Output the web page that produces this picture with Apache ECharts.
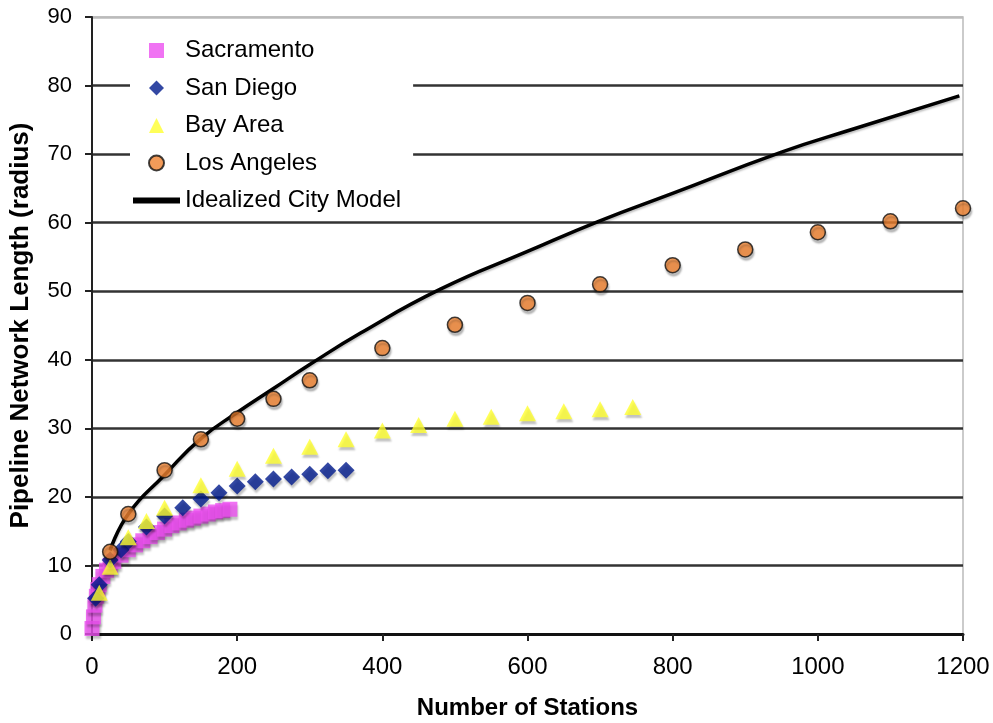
<!DOCTYPE html>
<html>
<head>
<meta charset="utf-8">
<script src="https://cdn.jsdelivr.net/npm/echarts@6/dist/echarts.min.js"></script>
<style>
html,body{margin:0;padding:0;background:#fff;}
#chart{width:993px;height:723px;}
</style>
</head>
<body>
<div id="chart"></div>
<script>
// ---- data ----
const xTicks = [0, 200, 400, 600, 800, 1000, 1200];
const yTicks = [0, 10, 20, 30, 40, 50, 60, 70, 80, 90];

const sacramento = [
  [0, 0.8], [2, 2.5], [4, 4.2], [6, 5.5], [8, 6.5], [10, 7.2], [15, 8.4], [20, 9.3],
  [25, 10.0], [30, 10.6], [40, 11.5], [50, 12.3], [60, 13.0], [70, 13.6], [80, 14.2],
  [90, 14.8], [100, 15.3], [110, 15.8], [120, 16.2], [130, 16.6], [140, 16.9],
  [150, 17.2], [160, 17.5], [170, 17.8], [180, 18.0], [190, 18.2]
];
const sanDiego = [
  [5, 5.2], [10, 7.2], [25, 10.8], [40, 12.3], [50, 13.5], [75, 15.6], [100, 17.2],
  [125, 18.4], [150, 19.7], [175, 20.6], [200, 21.6], [225, 22.2], [250, 22.6],
  [275, 22.9], [300, 23.3], [325, 23.8], [350, 23.9]
];
const bayArea = [
  [10, 6.0], [25, 9.8], [50, 14.1], [75, 16.5], [100, 18.4], [150, 21.7], [200, 24.1],
  [250, 26.0], [300, 27.3], [350, 28.4], [400, 29.7], [450, 30.5], [500, 31.4],
  [550, 31.7], [600, 32.2], [650, 32.5], [700, 32.8], [745, 33.1]
];
const losAngeles = [
  [25, 12.0], [50, 17.5], [100, 23.9], [150, 28.4], [200, 31.4], [250, 34.3],
  [300, 37.0], [400, 41.7], [500, 45.1], [600, 48.3], [700, 51.0], [800, 53.8],
  [900, 56.1], [1000, 58.6], [1100, 60.2], [1200, 62.1]
];
const idealized = [
  [25, 12.2], [50, 17.5], [100, 23.2], [150, 28.5], [200, 32.3], [250, 35.8],
  [300, 39.3], [370, 43.9], [480, 50.3], [600, 55.8], [698, 60.2], [798, 64.2],
  [950, 70.3], [1050, 73.7], [1195, 78.5]
];
const seriesNames = ['Sacramento', 'San Diego', 'Bay Area', 'Los Angeles', 'Idealized City Model'];

// ---- chart ----
const FONT = 'Liberation Sans, Arial, sans-serif';
const shadow = { shadowColor: 'rgba(0,0,0,0.3)', shadowBlur: 2, shadowOffsetX: 1, shadowOffsetY: 3 };
const chart = echarts.init(document.getElementById('chart'), null, { renderer: 'canvas' });
const gridColors = yTicks.map((v, i) => (i === yTicks.length - 1 ? '#bbbbbb' : '#333333'));

chart.setOption({
  animation: false,
  backgroundColor: '#ffffff',
  grid: {
    left: 92, right: 30, top: 17, bottom: 89,
    outerBoundsMode: 'none', containLabel: false,
    show: true, borderColor: '#bbbbbb', borderWidth: 1.5, backgroundColor: 'transparent'
  },
  legend: {
    orient: 'vertical',
    left: 130, top: 34,
    padding: [4, 12, 8, 3],
    backgroundColor: '#ffffff',
    itemWidth: 47, itemHeight: 15, itemGap: 12.5,
    textStyle: { fontFamily: FONT, fontSize: 24, color: '#000', lineHeight: 25 },
    data: [
      { name: seriesNames[0], icon: 'path://M0,0L10,0L10,10L0,10Z' },
      { name: seriesNames[1], icon: 'path://M5,0L10,5L5,10L0,5Z' },
      { name: seriesNames[2], icon: 'path://M5,0L10,10L0,10Z' },
      { name: seriesNames[3], icon: 'path://M0,5A5,5 0 1,0 10,5A5,5 0 1,0 0,5Z' },
      { name: seriesNames[4], icon: 'path://M0,0L48,0L48,6L0,6Z', itemStyle: { color: '#000' } }
    ]
  },
  xAxis: {
    type: 'value', min: xTicks[0], max: xTicks[xTicks.length - 1], interval: 200,
    name: 'Number of Stations', nameLocation: 'middle', nameGap: 62,
    nameTextStyle: { fontFamily: FONT, fontSize: 24, fontWeight: 'bold', color: '#000' },
    axisLine: { show: true, lineStyle: { color: '#111', width: 3 } },
    axisTick: { show: true, inside: false, length: 7, lineStyle: { color: '#222', width: 2 } },
    axisLabel: { fontFamily: FONT, fontSize: 24, color: '#000', margin: 21, formatter: v => String(v) },
    splitLine: { show: false }
  },
  yAxis: {
    type: 'value', min: yTicks[0], max: yTicks[yTicks.length - 1], interval: 10,
    name: 'Pipeline Network Length (radius)', nameLocation: 'middle', nameGap: 58, nameRotate: 90,
    nameTextStyle: { fontFamily: FONT, fontSize: 26, fontWeight: 'bold', color: '#000' },
    axisLine: { show: true, lineStyle: { color: '#222', width: 2 } },
    axisTick: { show: true, inside: false, length: 7, lineStyle: { color: '#222', width: 2 } },
    axisLabel: { fontFamily: FONT, fontSize: 22, color: '#000', margin: 20, formatter: v => String(v) },
    splitLine: { show: true, lineStyle: { color: gridColors, width: 2.5 } }
  },
  series: [
    {
      name: seriesNames[4], type: 'line', data: idealized, smooth: true, showSymbol: false, symbol: 'none',
      lineStyle: { color: '#000', width: 3.5, shadowColor: 'rgba(0,0,0,0.25)', shadowBlur: 2, shadowOffsetY: 2 },
      itemStyle: { color: '#000' }, z: 2
    },
    {
      name: seriesNames[0], type: 'scatter', data: sacramento, symbol: 'rect', symbolSize: 15,
      itemStyle: Object.assign({ color: '#ec50f0' }, shadow), z: 3
    },
    {
      name: seriesNames[1], type: 'scatter', data: sanDiego, symbol: 'diamond', symbolSize: 17,
      itemStyle: Object.assign({ color: '#001a8c' }, shadow), z: 4
    },
    {
      name: seriesNames[2], type: 'scatter', data: bayArea, symbol: 'triangle', symbolSize: [17, 16],
      itemStyle: Object.assign({ color: '#ffff30' }, shadow), z: 5
    },
    {
      name: seriesNames[3], type: 'scatter', data: losAngeles, symbol: 'circle', symbolSize: 15,
      itemStyle: Object.assign({ color: '#f08230', borderColor: '#111', borderWidth: 1.5 }, shadow), z: 6
    }
  ]
});
</script>
</body>
</html>
